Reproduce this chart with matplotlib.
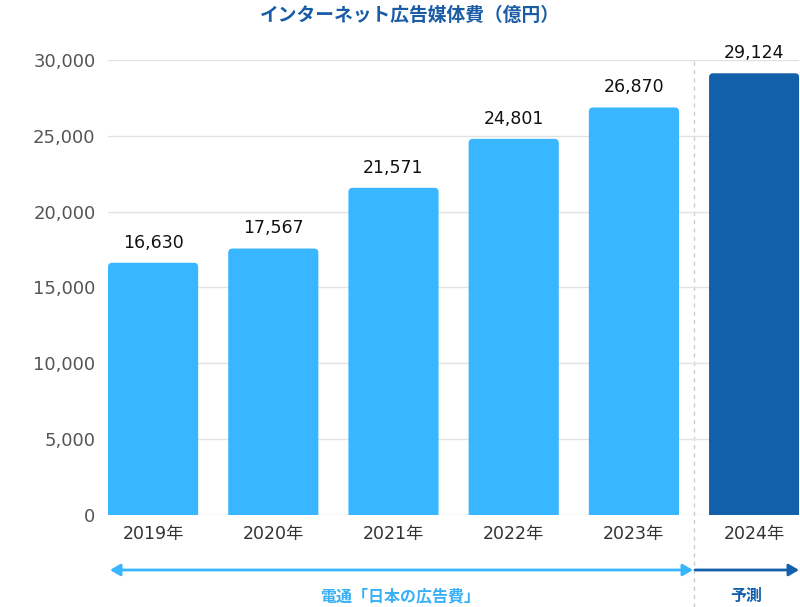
import matplotlib.pyplot as plt
from matplotlib.patches import FancyBboxPatch
import matplotlib.transforms as mtransforms

years = ["2019年", "2020年", "2021年", "2022年", "2023年", "2024年"]
values = [16630, 17567, 21571, 24801, 26870, 29124]
bar_colors = ["#38b6ff"] * 5 + ["#1160a9"]
yticks = [0, 5000, 10000, 15000, 20000, 25000, 30000]

plt.rcParams['font.family'] = ['DejaVu Sans', 'Noto Sans CJK JP']

fig = plt.figure(figsize=(8, 6.07), dpi=100)
ax = fig.add_axes([0.135, 0.1516, 0.864, 0.7496])

x = list(range(len(years)))
width = 0.75
ax.set_xlim(-0.375, 5.375)
ax.set_ylim(0, 30000)

# rounded bars: draw FancyBboxPatch, bottom pushed below 0 so only top corners show
for xi, v, c in zip(x, values, bar_colors):
    p = FancyBboxPatch((xi - width / 2, -600), width, v + 600,
                       boxstyle="round,pad=0,rounding_size=0.035",
                       mutation_aspect=8000, fc=c, ec="none", zorder=3)
    ax.add_patch(p)
    ax.annotate(f"{v:,}", (xi, v), xytext=(0, 8), textcoords="offset points",
                ha="center", va="bottom", fontsize=12.5, color="#111111",
                annotation_clip=False)

ax.set_yticks(yticks)
ax.set_yticklabels([f"{t:,}" for t in yticks])
ax.set_xticks(x)
ax.set_xticklabels(years)
ax.tick_params(axis="y", length=0, pad=9, labelsize=13, labelcolor="#555555")
ax.tick_params(axis="x", length=0, pad=7, labelsize=12.5, labelcolor="#333333")
ax.grid(axis="y", color="#e2e2e2", linewidth=1, zorder=0)
for s in ax.spines.values():
    s.set_visible(False)

# divider between actual and forecast
trans = mtransforms.blended_transform_factory(ax.transData, fig.transFigure)
ax.plot([4.5, 4.5], [0.0, 0.9012], transform=trans, color="#cccccc",
        linestyle=(0, (3, 3)), linewidth=1, clip_on=False, zorder=1)

fig.text(0.512, 0.975, "インターネット広告媒体費（億円）", ha="center", va="center",
         fontsize=13.5, fontweight="bold", color="#1a5ca6",
         family=['Noto Sans CJK JP', 'DejaVu Sans'])

# bottom arrows
ya = (607 - 570) / 607
ax.annotate("", xy=(110 / 800, ya), xytext=(693 / 800, ya), xycoords="figure fraction",
            arrowprops=dict(arrowstyle="<|-|>,head_length=0.6,head_width=0.35",
                            color="#38b6ff", lw=2, shrinkA=0, shrinkB=0))
ax.annotate("", xy=(799 / 800, ya), xytext=(695 / 800, ya), xycoords="figure fraction",
            arrowprops=dict(arrowstyle="-|>,head_length=0.6,head_width=0.35",
                            color="#1160a9", lw=2, shrinkA=0, shrinkB=0))
yt = (607 - 596) / 607
fig.text(400 / 800, yt, "電通「日本の広告費」", ha="center", va="center", fontsize=11.5,
         fontweight="bold", color="#38b0f5", family=['Noto Sans CJK JP', 'DejaVu Sans'])
fig.text(746 / 800, yt, "予測", ha="center", va="center", fontsize=11.5,
         fontweight="bold", color="#1160a9", family=['Noto Sans CJK JP', 'DejaVu Sans'])

fig.savefig("out.png", dpi=100)
